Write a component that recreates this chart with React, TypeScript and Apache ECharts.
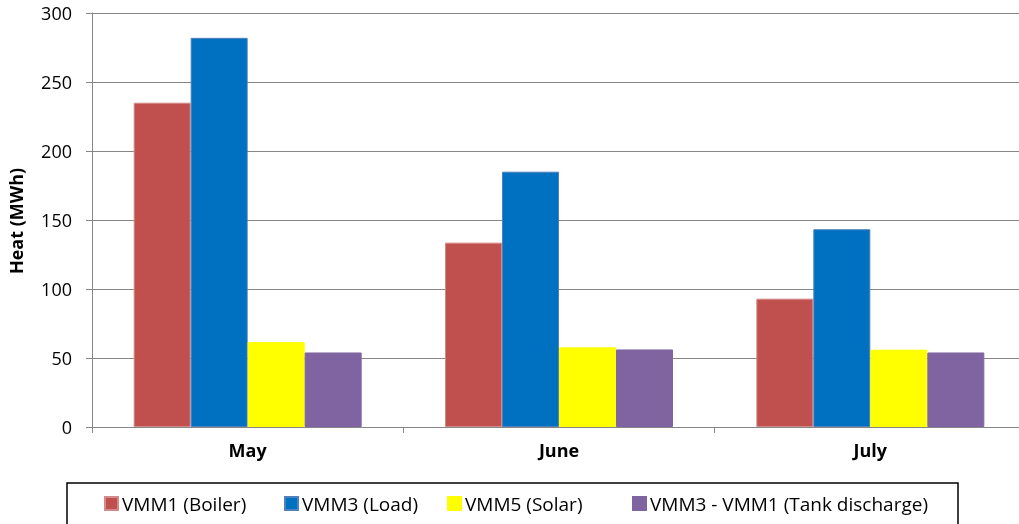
import React, { useEffect, useRef } from "react";
import * as echarts from "echarts";

const categories = ["May", "June", "July"];
const seriesNames = ["VMM1 (Boiler)", "VMM3 (Load)", "VMM5 (Solar)", "VMM3 - VMM1 (Tank discharge)"];
const boiler = [235, 133.6, 93];
const load = [282, 185, 143.3];
const solar = [61.5, 57.7, 56];
const tank = [54, 56.2, 54];
const yTicks = [0, 50, 100, 150, 200, 250, 300];

const colors = ["#C0504D", "#0070C0", "#FFFF00", "#8064A2"];
const borders = ["#D38B89", "#4F81BD", "#FFFF00", "#8064A2"];
const FONT = "'Open Sans', sans-serif";

export default function App() {
  const ref = useRef<HTMLDivElement>(null);
  useEffect(() => {
    if (!ref.current) return;
    const chart = echarts.init(ref.current, null, { renderer: "svg" });
    const values = [boiler, load, solar, tank];
    const legendLefts = [104, 284, 447, 632];
    chart.setOption({
      animation: false,
      textStyle: { fontFamily: FONT },
      grid: { left: 92, top: 13, width: 934, height: 414 },
      xAxis: {
        type: "category",
        data: categories,
        axisLine: { lineStyle: { color: "#868686", width: 1 } },
        axisTick: { show: true, length: 6, lineStyle: { color: "#868686" } },
        axisLabel: { fontFamily: FONT, fontSize: 18, fontWeight: "bold", color: "#000", margin: 14 },
      },
      yAxis: {
        type: "value",
        min: yTicks[0],
        max: yTicks[yTicks.length - 1],
        interval: 50,
        axisLine: { show: true, lineStyle: { color: "#868686", width: 1 } },
        axisTick: { show: true, length: 6, inside: false, lineStyle: { color: "#868686" } },
        splitLine: { lineStyle: { color: "#868686", width: 1 } },
        axisLabel: { fontFamily: FONT, fontSize: 18, color: "#000", margin: 20 },
      },
      legend: seriesNames.map((n, i) => ({
        data: [n],
        left: legendLefts[i],
        top: 494,
        padding: 0,
        itemWidth: 13,
        itemHeight: 13,
        icon: "rect",
        itemGap: 5,
        textStyle: { fontFamily: FONT, fontSize: 19, color: "#000", padding: [0, 0, 0, -1] },
      })),
      graphic: [
        {
          type: "rect",
          shape: { x: 67, y: 483, width: 891, height: 60 },
          style: { fill: "none", stroke: "#000", lineWidth: 1.5 },
        },
        {
          type: "text",
          x: 16,
          y: 221,
          rotation: Math.PI / 2,
          style: {
            text: "Heat (MWh)",
            fontFamily: FONT,
            fontSize: 18,
            fontWeight: "bold",
            fill: "#000",
            align: "center",
            verticalAlign: "middle",
          },
        },
      ],
      series: seriesNames.map((n, i) => ({
        name: n,
        type: "bar",
        data: values[i],
        barWidth: 57,
        barGap: "0%",
        itemStyle: { color: colors[i], borderColor: borders[i], borderWidth: 1 },
      })),
    });
    return () => chart.dispose();
  }, []);
  return <div ref={ref} style={{ width: 1034, height: 524, position: "fixed", left: 0, top: 0 }} />;
}
